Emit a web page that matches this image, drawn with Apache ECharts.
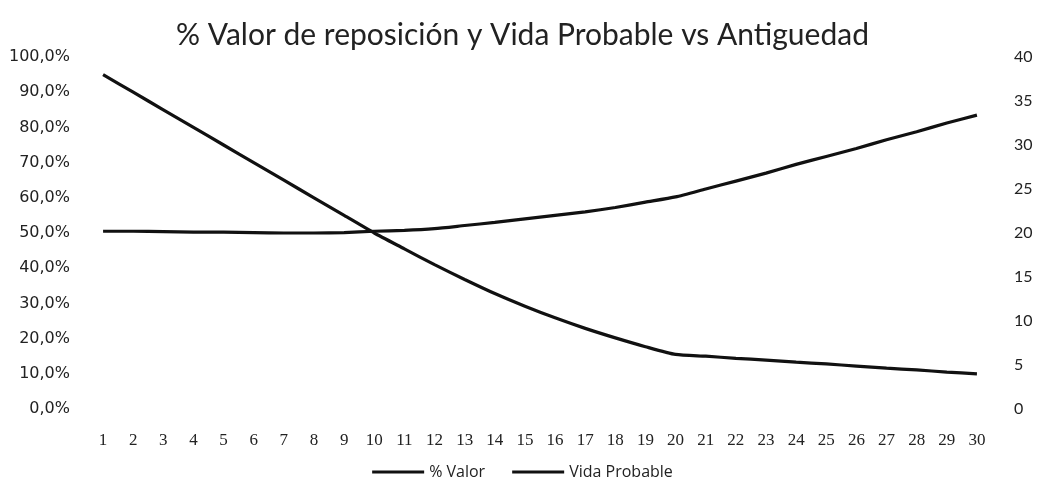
<!DOCTYPE html>
<html>
<head>
<meta charset="utf-8">
<script src="https://cdn.jsdelivr.net/npm/echarts@6/dist/echarts.min.js"></script>
<style>
  html, body { margin: 0; padding: 0; background: #fff; }
  #chart { width: 1045px; height: 489px; }
</style>
</head>
<body>
<div id="chart"></div>
<script>
// Antigüedad (años)
const ages = [1, 2, 3, 4, 5, 6, 7, 8, 9, 10, 11, 12, 13, 14, 15, 16, 17, 18, 19, 20, 21, 22, 23, 24, 25, 26, 27, 28, 29, 30];

// % Valor de reposición (eje izquierdo, en %)
const valorPct = [95, 90, 85, 80, 75, 70, 65, 60, 55, 50,
                  45.5, 41, 36.8, 32.8, 29.2, 25.9, 22.9, 20.2, 17.7, 15.5,
                  15.0, 14.4, 13.9, 13.3, 12.8, 12.2, 11.6, 11.1, 10.5, 10.0];

// Vida probable en años (eje derecho)
const vidaProbable = [20.2, 20.2, 20.15, 20.1, 20.1, 20.05, 20.0, 20.0, 20.05, 20.2,
                      20.3, 20.5, 20.85, 21.2, 21.6, 22.0, 22.4, 22.9, 23.5, 24.1,
                      25.0, 25.9, 26.8, 27.8, 28.7, 29.6, 30.6, 31.5, 32.5, 33.4];

const SANS = 'Lato, "Open Sans", sans-serif';
const WIDE = '"DejaVu Sans", Verdana, sans-serif';
const SERIF = '"Liberation Serif", "DejaVu Serif", serif';
const TEXT = '#222';

const chart = echarts.init(document.getElementById('chart'), null, { renderer: 'canvas' });

chart.setOption({
  animation: false,
  backgroundColor: '#fff',
  title: {
    text: '% Valor de reposición y Vida Probable vs Antiguedad',
    left: 'center',
    top: 15,
    textStyle: { fontFamily: SANS, fontSize: 30, fontWeight: 'normal', color: TEXT }
  },
  legend: {
    bottom: 4,
    left: 'center',
    itemWidth: 52,
    itemHeight: 10,
    itemGap: 27,
    icon: 'path://M0,3.5 L52,3.5 L52,6.5 L0,6.5 Z',
    textStyle: { fontFamily: '"Open Sans", sans-serif', fontSize: 16, color: TEXT },
    data: ['% Valor', 'Vida Probable']
  },
  grid: { left: 88, right: 53, top: 57, bottom: 80, containLabel: false },
  xAxis: {
    type: 'category',
    data: ages,
    boundaryGap: true,
    axisLine: { show: false },
    axisTick: { show: false },
    axisLabel: { fontFamily: SERIF, fontSize: 17, color: TEXT, margin: 23, interval: 0 }
  },
  yAxis: [
    {
      type: 'value',
      min: 0, max: 100, interval: 10,
      axisLine: { show: false },
      axisTick: { show: false },
      splitLine: { show: false },
      axisLabel: {
        fontFamily: WIDE, fontSize: 16, color: TEXT, margin: 18,
        formatter: v => v.toFixed(1).replace('.', ',') + '%'
      }
    },
    {
      type: 'value',
      min: 0, max: 40, interval: 5,
      position: 'right',
      axisLine: { show: false },
      axisTick: { show: false },
      splitLine: { show: false },
      axisLabel: { fontFamily: SANS, fontSize: 16, color: TEXT, margin: 22, align: 'left' }
    }
  ],
  series: [
    {
      name: '% Valor',
      type: 'line',
      yAxisIndex: 0,
      data: valorPct,
      showSymbol: false,
      smooth: 0.2,
      lineStyle: { color: '#111', width: 3.2 },
      itemStyle: { color: '#111' }
    },
    {
      name: 'Vida Probable',
      type: 'line',
      yAxisIndex: 1,
      data: vidaProbable,
      showSymbol: false,
      smooth: 0.2,
      lineStyle: { color: '#111', width: 3.2 },
      itemStyle: { color: '#111' }
    }
  ]
});
</script>
</body>
</html>
